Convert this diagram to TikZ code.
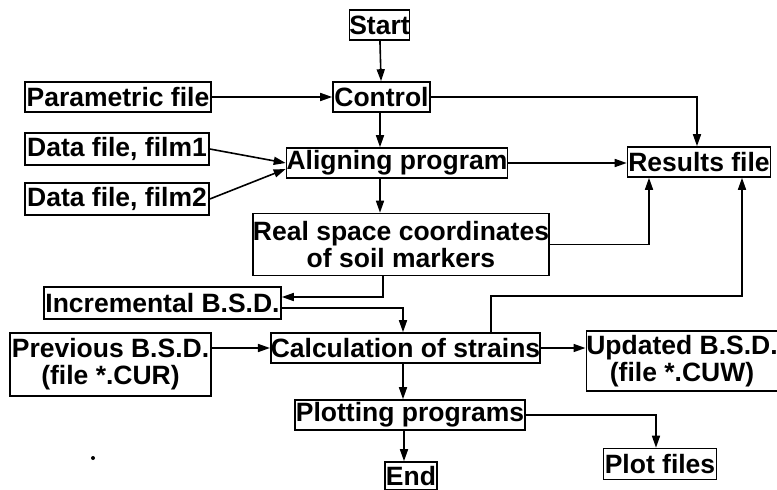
\documentclass[tikz,border=0pt]{standalone}
\usepackage{fontspec}
\setmainfont{Liberation Sans}
\usetikzlibrary{arrows.meta}
\begin{document}
\begin{tikzpicture}[x=1pt,y=-1pt,
  box/.style={draw,line width=1.6pt,inner sep=0pt,align=center,
    font=\fontsize{26.5}{27}\selectfont\bfseries},
  arr/.style={line width=1.6pt,-{Triangle[length=12pt,width=8pt]}}]
\useasboundingbox (0,0) rectangle (777,490);
\node[box,minimum width=59,minimum height=30] (start) at (379.5,25) {Start};
\node[box,minimum width=97,minimum height=30] (control) at (381.5,97) {Control};
\node[box,minimum width=186,minimum height=30] (param) at (118,97) {Parametric file};
\node[box,minimum width=184,minimum height=32] (film1) at (117,149) {Data file, film1};
\node[box,minimum width=184,minimum height=32] (film2) at (117,199) {Data file, film2};
\node[box,minimum width=221,minimum height=30] (align) at (397,163) {Aligning program};
\node[box,minimum width=143,minimum height=30] (results) at (699,162) {Results file};
\node[box,minimum width=295,minimum height=62] (real) at (401,244.5) {Real space coordinates\\of soil markers};
\node[box,minimum width=237,minimum height=32] (incr) at (162.5,303) {Incremental B.S.D.};
\node[box,minimum width=201,minimum height=63] (prev) at (110.5,364.5) {Previous B.S.D.\\(file *.CUR)};
\node[box,minimum width=269,minimum height=30] (calc) at (405.5,348) {Calculation of strains};
\node[box,minimum width=188,minimum height=60] (upd) at (682,361) {Updated B.S.D.\\(file *.CUW)};
\node[box,minimum width=230,minimum height=30] (plotp) at (410,415) {Plotting programs};
\node[box,minimum width=52,minimum height=28] (endn) at (411,476) {End};
\node[box,minimum width=113,minimum height=31] (plotf) at (660,464) {Plot files};
\coordinate (k) at (742,296);
\coordinate (r) at (383,297);
\draw[arr] (start) -- (control);
\draw[arr] (param.east) -- (control.west);
\draw[arr] (control.east) -| ([xshift=-2pt]results.north);
\draw[arr] ([xshift=-1.5pt]control.south) -- ([xshift=-1.5pt]control.south |- align.north);
\draw[arr] (film1.east) -- (align.west);
\draw[arr] (film2.east) -- ([yshift=-6pt]align.west);
\draw[arr] (align.east) -- (align.east -| results.west);
\draw[arr] ([xshift=-1.5pt]control.south |- align.south) -- ([xshift=-1.5pt]control.south |- real.north);
\draw[arr] (real.east) -| ([xshift=-50pt]results.south);
\draw[arr] (r |- real.south) -- (r) -- (r -| incr.east);
\draw[arr] ([yshift=-5pt]incr.east) -| ([xshift=-2.5pt]calc.north);
\draw[arr] ([xshift=85.5pt]calc.north) |- (k) -- (k |- results.south);
\draw[arr] (prev.east |- calc.west) -- (calc.west);
\draw[arr] (calc.east) -- (calc.east -| upd.west);
\draw[arr] ([xshift=-2.5pt]calc.south) -- ([xshift=-2.5pt]calc.south |- plotp.north);
\draw[arr] ([xshift=-7pt]endn.north |- plotp.south) -- ([xshift=-7pt]endn.north);
\draw[arr] (plotp.east) -| ([xshift=-4pt]plotf.north);
\fill (93,458) circle (2);
\end{tikzpicture}
\end{document}
